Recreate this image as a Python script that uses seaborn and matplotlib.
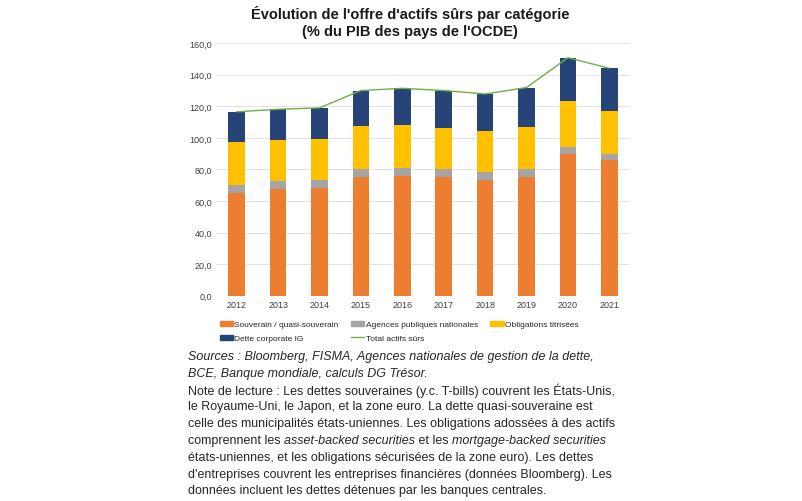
import numpy as np
import pandas as pd
import seaborn as sns
import matplotlib.pyplot as plt
from matplotlib.patches import Patch
from matplotlib.lines import Line2D

# data (% du PIB)
years = ["2012", "2013", "2014", "2015", "2016", "2017", "2018", "2019", "2020", "2021"]
souverain = [65.0, 67.5, 68.4, 74.9, 75.7, 74.9, 73.4, 75.3, 89.5, 85.9]
agences = [5.3, 4.9, 5.0, 5.1, 5.3, 5.1, 4.9, 4.7, 4.6, 3.6]
titrisees = [27.2, 26.1, 25.8, 27.6, 27.0, 26.5, 26.1, 27.0, 29.3, 27.8]
corporate = [19.0, 19.6, 19.8, 22.4, 23.4, 23.5, 23.4, 24.9, 27.4, 26.8]
y_ticks = [0, 20, 40, 60, 80, 100, 120, 140, 160]

labels = ["Souverain / quasi-souverain", "Agences publiques nationales",
          "Obligations titrisées", "Dette corporate IG"]
colors = ["#ED7D31", "#A5A5A5", "#FFC000", "#264478"]
line_color = "#70AD47"

df = pd.DataFrame({"year": years, "souverain": souverain, "agences": agences,
                   "titrisees": titrisees, "corporate": corporate})
# cumulative heights for the stacked look
cols = ["souverain", "agences", "titrisees", "corporate"]
cum = df[cols].cumsum(axis=1)
df["total"] = cum["corporate"]

sns.set_style("white")
plt.rcParams["font.family"] = ["Liberation Sans", "DejaVu Sans"]

fig = plt.figure(figsize=(8.03, 5.02), dpi=100)
ax = fig.add_axes([0.269, 0.409, 0.5156, 0.503])

# draw tallest first so smaller ones sit on top
for col, color in reversed(list(zip(cols, colors))):
    sns.barplot(x=df["year"], y=cum[col], color=color, width=0.4,
                saturation=1, linewidth=0, edgecolor="none", ax=ax, zorder=2)

sns.lineplot(x=np.arange(len(years)), y=df["total"], color=line_color,
             linewidth=1.0, ax=ax, zorder=3)

ax.set_xlim(-0.5, len(years) - 0.5)
ax.set_ylim(0, 160)
ax.set_yticks(y_ticks)
ax.set_yticklabels([f"{v:.1f}".replace(".", ",") for v in y_ticks])
ax.set_xlabel("")
ax.set_ylabel("")
ax.yaxis.grid(True, color="#E3E3E3", linewidth=0.7, zorder=0)
ax.set_axisbelow(True)
for s in ax.spines.values():
    s.set_visible(False)
ax.tick_params(axis="both", length=0, labelsize=6.5, colors="#404040")
ax.tick_params(axis="x", pad=3)
ax.tick_params(axis="y", pad=3)

fig.text(0.511, 0.972, "Évolution de l'offre d'actifs sûrs par catégorie",
         ha="center", va="center", fontsize=10.5, fontweight="bold", color="#1a1a1a")
fig.text(0.511, 0.937, "(% du PIB des pays de l'OCDE)",
         ha="center", va="center", fontsize=10.5, fontweight="bold", color="#1a1a1a")

# legend, row-wise order
handles = [Patch(color=c) for c in colors] + [Line2D([], [], color=line_color, linewidth=1)]
hlabels = labels + ["Total actifs sûrs"]
order = [0, 3, 1, 4, 2]
ax.legend([handles[i] for i in order], [hlabels[i] for i in order],
          ncol=3, loc="upper left", bbox_to_anchor=(0.005, -0.092),
          frameon=False, fontsize=6, handlelength=1.6, handleheight=0.55,
          handletextpad=0.15, columnspacing=1.5, labelspacing=0.8,
          borderaxespad=0, borderpad=0.2, labelcolor="#262626")

# notes below the chart
fig.canvas.draw()
renderer = fig.canvas.get_renderer()
x0 = 188 / 803
line_h = 16.8 / 502
y0 = 1 - 357 / 502
fs = 9
tcol = "#262626"
lines = [
    [("Sources : Bloomberg, FISMA, Agences nationales de gestion de la dette,", "italic")],
    [("BCE, Banque mondiale, calculs DG Trésor.", "italic")],
    [("Note de lecture : Les dettes souveraines (y.c. T-bills) couvrent les États-Unis,", "normal")],
    [("le Royaume-Uni, le Japon, et la zone euro. La dette quasi-souveraine est", "normal")],
    [("celle des municipalités états-uniennes. Les obligations adossées à des actifs", "normal")],
    [("comprennent les ", "normal"), ("asset-backed securities", "italic"),
     (" et les ", "normal"), ("mortgage-backed securities", "italic")],
    [("états-uniennes, et les obligations sécurisées de la zone euro). Les dettes", "normal")],
    [("d'entreprises couvrent les entreprises financières (données Bloomberg). Les", "normal")],
    [("données incluent les dettes détenues par les banques centrales.", "normal")],
]
for i, parts in enumerate(lines):
    x = x0
    y = y0 - i * line_h
    for txt, style in parts:
        t = fig.text(x, y, txt, ha="left", va="center", fontsize=fs,
                     style=style, color=tcol)
        bb = t.get_window_extent(renderer)
        x += bb.width / fig.bbox.width

fig.savefig("out.png", dpi=100)
